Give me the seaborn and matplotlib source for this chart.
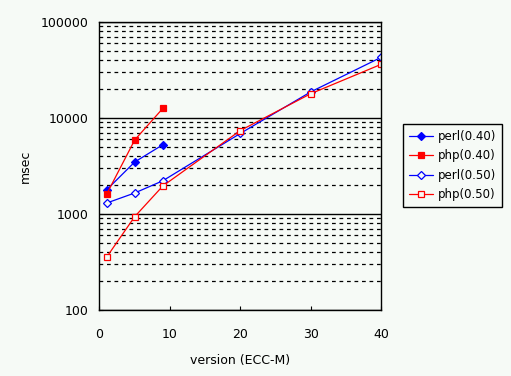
import numpy as np
import pandas as pd
import matplotlib
matplotlib.use("Agg")
import matplotlib.pyplot as plt
from matplotlib.ticker import LogLocator, FixedLocator, NullFormatter, FuncFormatter
import seaborn as sns

# data
x_short = [1, 5, 9]
x_long = [1, 5, 9, 20, 30, 40]
perl_040 = [1780, 3480, 5270]
php_040 = [1600, 5900, 12600]
perl_050 = [1300, 1655, 2220, 6900, 18700, 42800]
php_050 = [354, 938, 1960, 7400, 17900, 36200]

bg = "#F6FAF6"
sns.set_theme(style="white", rc={"axes.facecolor": bg, "figure.facecolor": bg,
                                 "text.color": "black", "axes.labelcolor": "black"})
plt.rcParams["font.family"] = ["DejaVu Sans"]

fig = plt.figure(figsize=(5.11, 3.76), dpi=100)
ax = fig.add_axes([0.1947, 0.1755, 0.5510, 0.7660])

series = [
    ("perl(0.40)", x_short, perl_040, "#0000FF", "D", "full", 4.0),
    ("php(0.40)", x_short, php_040, "#FF0000", "s", "full", 4.5),
    ("perl(0.50)", x_long, perl_050, "#0000FF", "D", "none", 4.0),
    ("php(0.50)", x_long, php_050, "#FF0000", "s", "none", 5.0),
]
for name, xs, ys, col, mk, fill, ms in series:
    df = pd.DataFrame({"version": xs, "msec": ys})
    sns.lineplot(data=df, x="version", y="msec", ax=ax, color=col, marker=mk,
                 markersize=ms, markeredgecolor=col,
                 markerfacecolor=(col if fill == "full" else bg),
                 markeredgewidth=0.9, linewidth=0.9, label=name)

ax.set_yscale("log")
ax.set_ylim(100, 100000)
ax.set_xlim(0, 40)
ax.set_xticks([0, 10, 20, 30, 40])
ax.yaxis.set_major_locator(FixedLocator([100, 1000, 10000, 100000]))
ax.yaxis.set_major_formatter(FuncFormatter(lambda v, p: f"{int(round(v))}"))
ax.yaxis.set_minor_locator(LogLocator(base=10, subs=np.arange(2, 10)))
ax.yaxis.set_minor_formatter(NullFormatter())

ax.grid(True, axis="y", which="major", color="black", linestyle="-", linewidth=1.0)
ax.grid(True, axis="y", which="minor", color="black", linestyle=(0, (3, 3)), linewidth=0.9)
ax.grid(False, axis="x")
ax.set_axisbelow(True)

for s in ax.spines.values():
    s.set_visible(True)
    s.set_color("black")
    s.set_linewidth(1.0)

ax.tick_params(axis="both", which="both", direction="in", labelsize=9, colors="black",
               length=3, width=0.8, bottom=True, left=True, pad=8)
ax.tick_params(axis="x", pad=13)
ax.tick_params(axis="y", which="minor", length=0)

ax.set_xlabel("version (ECC-M)", fontsize=9, color="black", labelpad=9)
ax.set_ylabel("msec", fontsize=9, color="black", labelpad=6)

leg = ax.legend(loc="upper left", bbox_to_anchor=(0.789, 0.670), bbox_transform=fig.transFigure,
                borderaxespad=0, fontsize=8.5, frameon=True, fancybox=False, edgecolor="black",
                facecolor=bg, framealpha=1, handlelength=2.0, handletextpad=0.4,
                borderpad=0.5, labelspacing=0.55, labelcolor="black")
leg.get_frame().set_linewidth(1.0)

fig.savefig("out.png", dpi=100, facecolor=bg)
